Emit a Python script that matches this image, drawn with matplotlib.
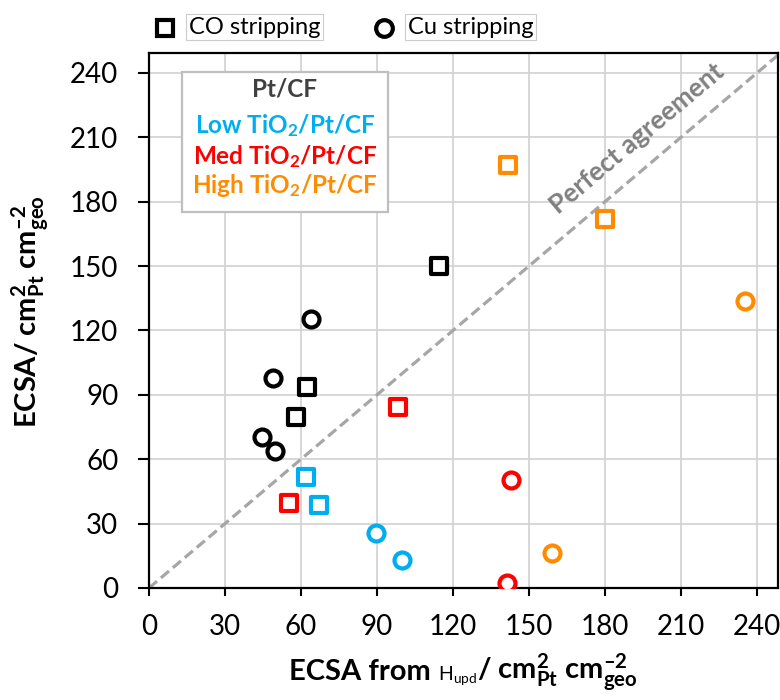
import matplotlib
matplotlib.use("Agg")
import matplotlib.pyplot as plt
from matplotlib.lines import Line2D
from matplotlib.patches import Rectangle

plt.rcParams['font.family'] = ['Lato', 'DejaVu Sans']
plt.rcParams['mathtext.fontset'] = 'custom'
plt.rcParams['mathtext.rm'] = 'Lato:bold'
plt.rcParams['mathtext.it'] = 'Lato:bold'
plt.rcParams['mathtext.bf'] = 'Lato:bold'

# data: (H_upd ECSA, stripping ECSA)
samples = ['Pt/CF', 'Low TiO$_2$/Pt/CF', 'Med TiO$_2$/Pt/CF', 'High TiO$_2$/Pt/CF']
colors = ['#000000', '#00AEEF', '#FF0000', '#FF8C00']
label_colors = ['#404040', '#00AEEF', '#FF0000', '#FF8C00']

co_x = [[114.5, 62.5, 57.9], [62.0, 67.2], [55.4, 98.4], [141.6, 180.0]]
co_y = [[150.0, 93.5, 79.5], [51.9, 38.7], [39.7, 84.5], [197.1, 171.8]]
cu_x = [[63.8, 49.1, 44.7, 49.7], [89.5, 99.9], [142.9, 141.2], [235.3, 159.0]]
cu_y = [[125.2, 98.0, 70.5, 63.8], [25.5, 13.0], [50.3, 2.2], [133.7, 16.2]]

ticks = [0, 30, 60, 90, 120, 150, 180, 210, 240]

fig = plt.figure(figsize=(7.8, 7.0), dpi=100)
ax = fig.add_axes([0.191, 0.16, 0.8064, 0.7643])
ax.set_xlim(0, 248.3)
ax.set_ylim(0, 249.3)
ax.set_xticks(ticks)
ax.set_yticks(ticks)
ax.grid(True, color='#D4D4D4', lw=1.3, zorder=0)
ax.set_axisbelow(True)
for sp in ax.spines.values():
    sp.set_linewidth(1.6)
    sp.set_color('black')
ax.tick_params(axis='x', length=6, width=1.5, pad=13, labelsize=20)
ax.tick_params(axis='y', length=8, width=1.5, pad=14, labelsize=20)

# perfect agreement line
ax.plot([0, 260], [0, 260], color='#A6A6A6', lw=2.3, ls=(0, (3.3, 1.6)), zorder=2)
ax.text(192.5, 209.5, 'Perfect agreement', rotation=40, ha='center', va='center',
        color='#808080', fontsize=19, fontweight='bold', zorder=2)

for i in range(len(samples)):
    ax.scatter(co_x[i], co_y[i], marker='s', s=11.5 ** 2, facecolors='white',
               edgecolors=colors[i], linewidths=3, zorder=4)
    ax.scatter(cu_x[i], cu_y[i], marker='o', s=11.5 ** 2, facecolors='white',
               edgecolors=colors[i], linewidths=3, zorder=4)

# sample colour key
ax.add_patch(Rectangle((0.052, 0.703), 0.328, 0.261, transform=ax.transAxes,
                       facecolor='white', edgecolor='#BFBFBF', lw=1.6, zorder=3))
baselines = [0.918, 0.850, 0.793, 0.738]
for name, c, yb in zip(samples, label_colors, baselines):
    ax.text(0.216, yb, name, transform=ax.transAxes, ha='center', va='baseline',
            color=c, fontsize=17.5, fontweight='bold', zorder=5)

# marker key above the plot
box = dict(boxstyle='square,pad=0.12', fc='white', ec='#CCCCCC', lw=0.8)
for mk, xm, label, xt in [('s', 165, 'CO stripping', 189), ('o', 384, 'Cu stripping', 408)]:
    fig.add_artist(Line2D([xm / 780], [1 - 27.5 / 700], transform=fig.transFigure,
                          marker=mk, ms=12, mfc='white', mec='black', mew=3, ls='none'))
    fig.text(xt / 780, 1 - 27 / 700, label, ha='left', va='center', fontsize=17, bbox=box)

# y label
fig.text(31 / 780, 1 - 312 / 700, 'ECSA/ cm$^{2}_{Pt}$ cm$^{\u20132}_{geo}$', rotation=90,
         ha='center', va='center', fontsize=21, fontweight='bold')

# x label built from pieces so that H_upd is set smaller and not bold
renderer = fig.canvas.get_renderer()
pieces = [('ECSA from ', 21, 'bold'),
          (r'$\mathregular{H_{upd}}$', 14, 'normal'),
          ('/ cm$^{2}_{Pt}$ cm$^{\u20132}_{geo}$', 21, 'bold')]
texts = []
for s, size, w in pieces:
    texts.append(fig.text(0, 1 - 680 / 700, s, ha='left', va='baseline',
                          fontsize=size, fontweight=w))
widths = [t.get_window_extent(renderer).width for t in texts]
x0 = 463 - sum(widths) / 2
for t, wd in zip(texts, widths):
    t.set_x(x0 / 780)
    x0 += wd

fig.savefig('out.png', dpi=100)
